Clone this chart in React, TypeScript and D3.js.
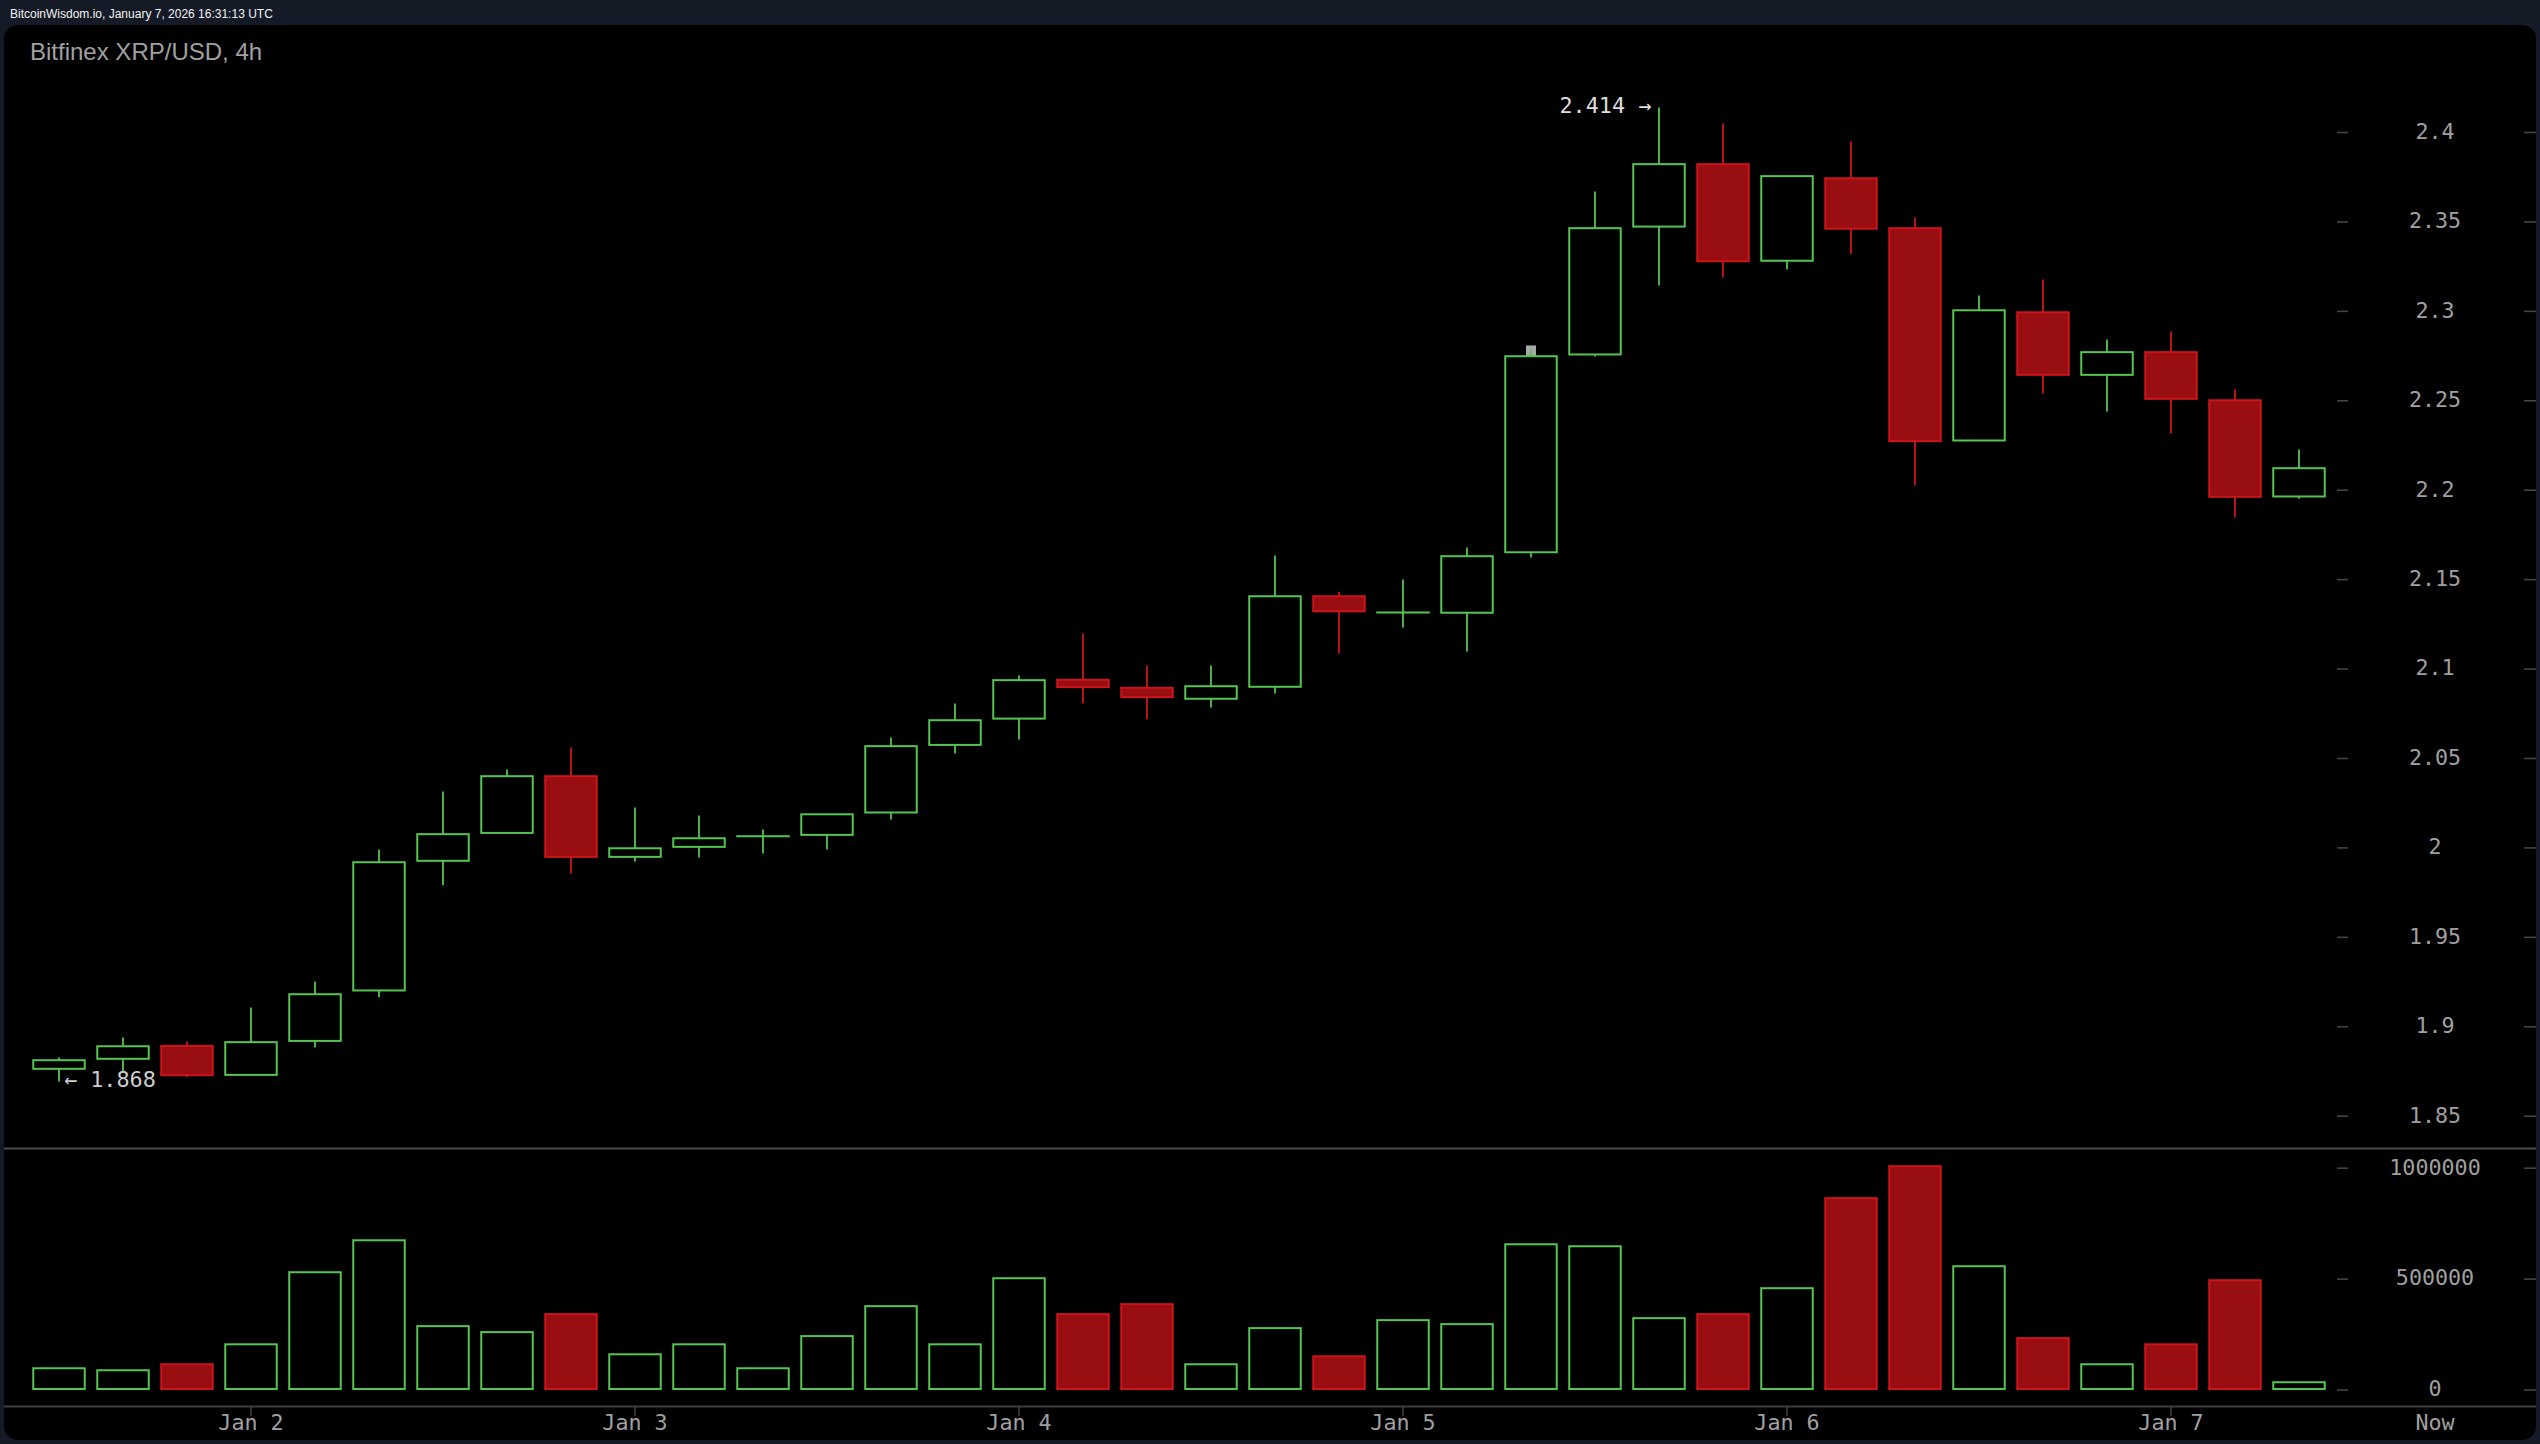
import React from "react";
import * as d3 from "d3";

const opens = [1.8765,1.8821,1.8893,1.8731,1.8921,1.9203,1.9928,2.0084,2.0401,1.995,2.0006,2.0065,2.0073,2.0198,2.0576,2.0723,2.094,2.0895,2.0834,2.0901,2.1407,2.1316,2.1315,2.1653,2.2759,2.3474,2.3823,2.3283,2.3744,2.3465,2.2278,2.2995,2.2645,2.2772,2.2503,2.1965];
const closes = [1.8813,1.8891,1.8729,1.8914,1.9182,1.992,2.0077,2.0401,1.995,1.9998,2.0054,2.0065,2.0188,2.0569,2.0714,2.0938,2.0899,2.0843,2.0904,2.1407,2.1323,2.1316,2.1631,2.2749,2.3465,2.3823,2.328,2.3756,2.3462,2.2274,2.3006,2.2645,2.2772,2.2511,2.1963,2.2123];
const highs = [1.8828,1.894,1.8918,1.9108,1.9253,1.9991,2.0315,2.0438,2.0561,2.0226,2.0181,2.0103,2.0188,2.0617,2.0807,2.0964,2.1199,2.102,2.102,2.1635,2.1432,2.1501,2.168,2.2787,2.367,2.414,2.405,2.3756,2.395,2.3525,2.3089,2.3178,2.2843,2.2887,2.2563,2.2228];
const lows = [1.8694,1.875,1.8718,1.8731,1.8884,1.9165,1.9791,2.0084,1.9857,1.9924,1.9946,1.9969,1.9991,2.0159,2.0528,2.0606,2.0807,2.0718,2.0785,2.0863,2.1087,2.1232,2.1098,2.1624,2.2748,2.3145,2.3189,2.3234,2.332,2.2026,2.2278,2.2541,2.244,2.2317,2.1847,2.1952];
const volumes = [98000,89000,116000,206000,531000,675000,288000,261000,342000,161000,206000,98000,243000,378000,206000,504000,342000,387000,116000,279000,152000,315000,297000,657000,648000,324000,342000,459000,865000,1009000,558000,234000,116000,206000,495000,35000];
const priceTicks = [1.85,1.9,1.95,2,2.05,2.1,2.15,2.2,2.25,2.3,2.35,2.4];
const volumeTicks = [0,500000,1000000];
const dateTicks = [{ i: 3, label: "Jan 2" },{ i: 9, label: "Jan 3" },{ i: 15, label: "Jan 4" },{ i: 21, label: "Jan 5" },{ i: 27, label: "Jan 6" },{ i: 33, label: "Jan 7" }];
const headerText = "BitcoinWisdom.io, January 7, 2026 16:31:13 UTC";
const titleText = "Bitfinex XRP/USD, 4h";
const highLabel = "2.414 →";
const lowLabel = "← 1.868";
const markerIndex = 23;

const W = 2540, H = 1444;
const GREEN = "#55c452", RED_S = "#cc141c", RED_F = "#990e10";
const MONO = "'DejaVu Sans Mono', monospace";
const SANS = "'Liberation Sans', Arial, sans-serif";
const LABEL = "#a0a0a0";
const TICK = "#444";

export default function App() {
  const x = d3.scaleLinear().domain([0, 35]).range([59, 2299]);
  const y = d3.scaleLinear().domain([2.4, 1.85]).range([132.5, 1116.2]);
  const v = d3.scaleLinear().domain([0, 1000000]).range([1390, 1168.2]);
  const bw = 51.5;
  const panel = { x: 4, y: 25, w: 2532, h: 1415 };
  return (
    <svg width={W} height={H} viewBox={`0 0 ${W} ${H}`} style={{ position: "absolute", left: 0, top: 0, display: "block" }}>
      <rect width={W} height={H} fill="#141a26" />
      <text x={10} y={18} fill="#f2f2f2" fontFamily={SANS} fontSize={12}>{headerText}</text>
      <rect x={panel.x} y={panel.y} width={panel.w} height={panel.h} rx={14} fill="#000" />
      <text x={30} y={60} fill="#a0a0a0" fontFamily={SANS} fontSize={24}>{titleText}</text>

      <line x1={panel.x} x2={panel.x + panel.w} y1={1148.5} y2={1148.5} stroke="#4a4a4a" strokeWidth={1.8} />
      <line x1={panel.x} x2={panel.x + panel.w} y1={1406.5} y2={1406.5} stroke="#3f3f3f" strokeWidth={1.8} />

      {priceTicks.map((t) => (
        <g key={t}>
          <line x1={2337} x2={2348} y1={y(t)} y2={y(t)} stroke={TICK} strokeWidth={1.6} />
          <line x1={2524} x2={2536} y1={y(t)} y2={y(t)} stroke={TICK} strokeWidth={1.6} />
          <text x={2435} y={y(t) + 6.3} textAnchor="middle" fill={LABEL} fontFamily={MONO} fontSize={21.7}>{String(t)}</text>
        </g>
      ))}
      {volumeTicks.map((t) => (
        <g key={t}>
          <line x1={2337} x2={2348} y1={v(t)} y2={v(t)} stroke={TICK} strokeWidth={1.6} />
          <line x1={2524} x2={2536} y1={v(t)} y2={v(t)} stroke={TICK} strokeWidth={1.6} />
          <text x={2435} y={v(t) + 6.3} textAnchor="middle" fill={LABEL} fontFamily={MONO} fontSize={21.7}>{String(t)}</text>
        </g>
      ))}
      {dateTicks.map((d) => (
        <g key={d.label}>
          <line x1={x(d.i)} x2={x(d.i)} y1={1407} y2={1416} stroke={TICK} strokeWidth={1.4} />
          <text x={x(d.i)} y={1430} textAnchor="middle" fill={LABEL} fontFamily={MONO} fontSize={21.7}>{d.label}</text>
        </g>
      ))}
      <text x={2435} y={1430} textAnchor="middle" fill={LABEL} fontFamily={MONO} fontSize={21.7}>Now</text>

      <rect x={x(markerIndex) - 5} y={y(highs[markerIndex]) - 4} width={10} height={y(closes[markerIndex]) - y(highs[markerIndex]) + 4} fill="#a8a8a8" />

      {opens.map((o, i) => {
        const c = closes[i];
        const up = c >= o;
        const stroke = up ? GREEN : RED_S;
        const top = y(Math.max(o, c));
        const bot = y(Math.min(o, c));
        const flat = o === c;
        return (
          <g key={i}>
            <line x1={x(i)} x2={x(i)} y1={y(highs[i])} y2={y(lows[i])} stroke={stroke} strokeWidth={1.8} />
            {flat ? (
              <line x1={x(i) - bw / 2 - 1} x2={x(i) + bw / 2 + 1} y1={top} y2={top} stroke={stroke} strokeWidth={2} />
            ) : (
              <rect x={x(i) - bw / 2} y={top} width={bw} height={bot - top} fill={up ? "#000" : RED_F} stroke={stroke} strokeWidth={2} />
            )}
            <rect
              x={x(i) - bw / 2}
              y={v(volumes[i])}
              width={bw}
              height={v(0) - v(volumes[i]) - 1}
              fill={up ? "#000" : RED_F}
              stroke={stroke}
              strokeWidth={2}
            />
          </g>
        );
      })}

      <text x={1559.5} y={y(2.414) + 6} fill="#ddd" fontFamily={MONO} fontSize={21.8}>{highLabel}</text>
      <text x={64} y={1087} fill="#ccc" fontFamily={MONO} fontSize={21.8}>{lowLabel}</text>
    </svg>
  );
}
